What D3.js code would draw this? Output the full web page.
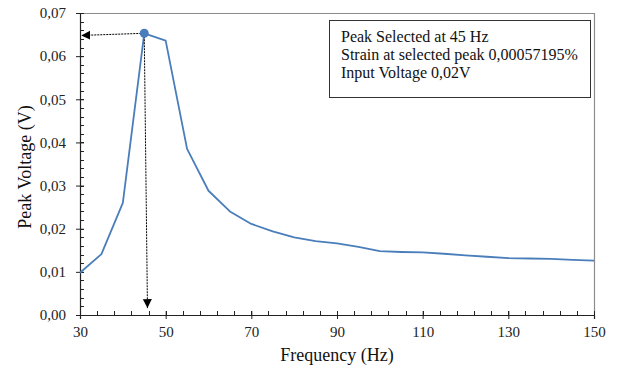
<!DOCTYPE html>
<html>
<head>
<meta charset="utf-8">
<script src="https://cdn.jsdelivr.net/npm/d3@7"></script>
</head>
<body style="margin:0;background:#fff">
<script>
  // measured response, 5 Hz steps
  const freqs = [30, 35, 40, 45, 50, 55, 60, 65, 70, 75, 80, 85, 90, 95, 100,
    105, 110, 115, 120, 125, 130, 135, 140, 145, 150];
  const volts = [0.0098, 0.0141, 0.0260, 0.0653, 0.0636, 0.0385, 0.0288, 0.0240,
    0.0211, 0.0194, 0.0180, 0.0171, 0.0166, 0.0158, 0.0148, 0.0146, 0.0145,
    0.0142, 0.0138, 0.0135, 0.0132, 0.0131, 0.0130, 0.0128, 0.0126];

  const xTicks = [30, 50, 70, 90, 110, 130, 150];
  const yTicks = [0, 0.01, 0.02, 0.03, 0.04, 0.05, 0.06, 0.07];
  const peak = { f: 45, v: 0.0653 };
  const hArrowEnd = { f: 30.3, v: 0.0648 };
  const vArrowEnd = { f: 45.75, v: 0.0016 };
  const noteLines = [
    "Peak Selected at 45 Hz",
    "Strain at selected peak 0,00057195%",
    "Input Voltage 0,02V",
  ];

  // note: keep font sizes integer, fractional ones fall back to a sans face here
  const FONT = "Liberation Serif";
  const W = 617, H = 371;
  const margin = { top: 13, right: 23, bottom: 56, left: 80 };
  const width = W - margin.left - margin.right;
  const height = H - margin.top - margin.bottom;

  const svg = d3.select("body").append("svg")
    .attr("width", W).attr("height", H)
    .style("display", "block");

  const defs = svg.append("defs");
  defs.append("marker")
    .attr("id", "head")
    .attr("markerUnits", "userSpaceOnUse")
    .attr("viewBox", "0 0 10 10")
    .attr("refX", 10).attr("refY", 5)
    .attr("markerWidth", 9).attr("markerHeight", 10)
    .attr("orient", "auto")
    .append("path").attr("d", "M0,0L10,5L0,10Z").attr("fill", "#000");

  const g = svg.append("g").attr("transform", `translate(${margin.left},${margin.top})`);

  const x = d3.scaleLinear().domain([30, 150]).range([0, width]);
  const y = d3.scaleLinear().domain([0, 0.07]).range([height, 0]);
  const fmt = (d) => d3.format(".2f")(d).replace(".", ",");

  // grey frame on top / right
  g.append("path")
    .attr("d", `M0,0.5H${width + 0.5}V${height}`)
    .attr("fill", "none").attr("stroke", "#8c8c8c").attr("stroke-width", 1.2);

  // minor ticks (inside)
  const xMinor = d3.range(30, 150.1, 4);
  const yMinor = d3.range(0, 0.0701, 0.002);
  g.append("g").selectAll("line").data(xMinor).join("line")
    .attr("x1", (d) => Math.round(x(d)) + 0.5).attr("x2", (d) => Math.round(x(d)) + 0.5)
    .attr("y1", height).attr("y2", height - 4)
    .attr("stroke", "#222");
  g.append("g").selectAll("line").data(yMinor).join("line")
    .attr("y1", (d) => Math.round(y(d)) + 0.5).attr("y2", (d) => Math.round(y(d)) + 0.5)
    .attr("x1", 0).attr("x2", 4)
    .attr("stroke", "#222");

  const xAxis = g.append("g")
    .attr("transform", `translate(0,${height})`)
    .call(d3.axisBottom(x).tickValues(xTicks).tickSize(4).tickPadding(7));
  const yAxis = g.append("g")
    .call(d3.axisLeft(y).tickValues(yTicks).tickFormat(fmt).tickSize(4).tickPadding(10));

  [xAxis, yAxis].forEach((a) => {
    a.attr("font-family", FONT).attr("font-size", 15);
    a.select(".domain").attr("stroke", "#222").attr("stroke-width", 1.2);
    a.selectAll(".tick line").attr("stroke", "#222");
    a.selectAll("text").attr("font-family", FONT).attr("font-size", 15).attr("fill", "#222");
  });
  // major ticks cross the axis
  xAxis.selectAll(".tick line").attr("y1", -4).attr("y2", 4);
  yAxis.selectAll(".tick line").attr("x1", 4).attr("x2", -4);

  // axis titles
  g.append("text")
    .attr("x", width / 2).attr("y", height + 46)
    .attr("text-anchor", "middle")
    .attr("font-family", FONT).attr("font-size", 18).attr("fill", "#111")
    .text("Frequency (Hz)");
  g.append("text")
    .attr("transform", `translate(${-49},${height / 2 + 3}) rotate(-90)`)
    .attr("text-anchor", "middle")
    .attr("font-family", FONT).attr("font-size", 18).attr("fill", "#111")
    .text("Peak Voltage (V)");

  // response line
  const line = d3.line().x((d, i) => x(freqs[i])).y((d) => y(d));
  g.append("path")
    .datum(volts)
    .attr("d", line)
    .attr("fill", "none")
    .attr("stroke", "#4a7ebb")
    .attr("stroke-width", 1.8)
    .attr("stroke-linejoin", "round");

  // dotted arrows from the peak
  g.append("line")
    .attr("x1", x(peak.f)).attr("y1", y(peak.v))
    .attr("x2", x(hArrowEnd.f)).attr("y2", y(hArrowEnd.v))
    .attr("stroke", "#000").attr("stroke-width", 1).attr("stroke-dasharray", "2,1")
    .attr("marker-end", "url(#head)");
  g.append("line")
    .attr("x1", x(peak.f)).attr("y1", y(peak.v))
    .attr("x2", x(vArrowEnd.f)).attr("y2", y(vArrowEnd.v))
    .attr("stroke", "#000").attr("stroke-width", 1).attr("stroke-dasharray", "2,1")
    .attr("marker-end", "url(#head)");

  g.append("circle")
    .attr("cx", x(peak.f)).attr("cy", y(peak.v)).attr("r", 4.5)
    .attr("fill", "#4a7ebb");

  // note box
  const note = svg.append("g").attr("transform", "translate(329,20)");
  note.append("rect")
    .attr("x", 0.5).attr("y", 0.5).attr("width", 261).attr("height", 77)
    .attr("fill", "#fff").attr("stroke", "#333").attr("stroke-width", 1);
  note.selectAll("text").data(noteLines).join("text")
    .attr("x", 12).attr("y", (d, i) => 22 + i * 18)
    .attr("font-family", FONT).attr("font-size", 16).attr("fill", "#111")
    .text((d) => d);
</script>
</body>
</html>
